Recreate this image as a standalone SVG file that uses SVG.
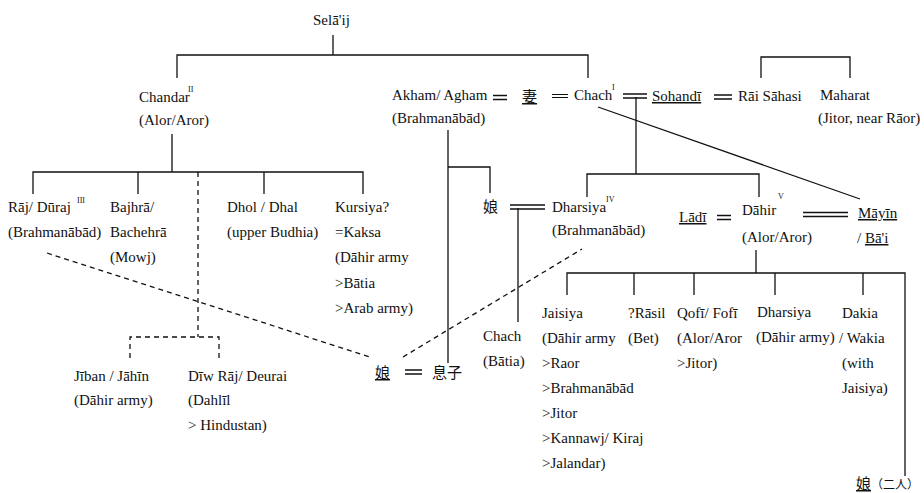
<svg xmlns="http://www.w3.org/2000/svg" width="924" height="493" viewBox="0 0 924 493">
<style>
.t{font-family:"Liberation Serif","Times New Roman","DejaVu Serif",serif;font-size:15px;fill:#111}
.s{font-family:"Liberation Serif","Times New Roman",serif;font-size:8px;fill:#111}
.c{font-family:"Noto Sans CJK JP","Noto Sans CJK SC",sans-serif;font-size:15px;fill:#111}
.u{text-decoration:underline}
.ln{stroke:#111;stroke-width:1.3;fill:none}
.d{stroke-dasharray:5 4}
.eq{stroke:#111;stroke-width:1.5;fill:none}
</style>
<rect width="924" height="493" fill="#fff"/>
<g id="connectors">
<path class="ln" d="M333 35V55M177 78V55H588V78"/>
<path class="ln" d="M761 78V57H850V78"/>
<path class="ln" d="M172 134V172M33 194V172H363V194M138 172V194M264 172V194"/>
<path class="ln d" d="M198 172V337M130 358V337H219V358"/>
<path class="ln d" d="M47 253L370 357M403 357L582 249"/>
<path class="ln" d="M448 130V363M448 167H490V193"/>
<path class="ln" d="M518 208V322"/>
<path class="ln" d="M636 97V174M587 197V174H759V197"/>
<path class="ln" d="M598 107L860 199"/>
<path class="ln" d="M756 250V273M567 295V273H905V476M634 273V295M694 273V295M775 273V295M863 273V295"/>
<path class="eq" d="M493 95.5H507M493 99.5H507"/>
<path class="eq" style="stroke-width:1" d="M552 94.5H568M552 97.5H568"/>
<path class="eq" d="M623 94H647M623 98H647"/>
<path class="eq" d="M714 95H732M714 99H732"/>
<path class="eq" d="M510 205H545M510 209H545"/>
<path class="eq" d="M717 215.5H731M717 219.5H731"/>
<path class="eq" d="M803 212.5H848M803 216.5H848"/>
<path class="eq" d="M405 370H422M405 374H422"/>
</g>
<g id="selaij"><text class="t" x="313" y="25">Selā'ij</text></g>
<g id="chandar"><text class="t" x="139" y="102">Chandar</text><text class="s" x="188" y="92">II</text><text class="t" x="139" y="125">(Alor/Aror)</text></g>
<g id="akham"><text class="t" x="392" y="100">Akham/ Agham</text><text class="t" x="392" y="123">(Brahmanābād)</text></g>
<g id="wife"><text class="c u" x="522" y="102">妻</text></g>
<g id="chach"><text class="t" x="574" y="100">Chach</text><text class="s" x="612" y="90">I</text></g>
<g id="sohandi"><text class="t u" x="652" y="101">Sohandī</text></g>
<g id="rai-sahasi"><text class="t" x="738" y="101">Rāi Sāhasi</text></g>
<g id="maharat"><text class="t" x="820" y="100">Maharat</text><text class="t" x="818" y="123">(Jitor, near Rāor)</text></g>
<g id="raj"><text class="t" x="8" y="212">Rāj/ Dūraj</text><text class="s" x="77" y="203">III</text><text class="t" x="8" y="237">(Brahmanābād)</text></g>
<g id="bajhra"><text class="t" x="110" y="212">Bajhrā/</text><text class="t" x="110" y="237">Bachehrā</text><text class="t" x="110" y="262">(Mowj)</text></g>
<g id="dhol"><text class="t" x="227" y="212">Dhol / Dhal</text><text class="t" x="227" y="237">(upper Budhia)</text></g>
<g id="kursiya"><text class="t" x="335" y="212">Kursiya?</text><text class="t" x="335" y="237">=Kaksa</text><text class="t" x="335" y="262">(Dāhir army</text><text class="t" x="335" y="288">&gt;Bātia</text><text class="t" x="335" y="313">&gt;Arab army)</text></g>
<g id="jiban"><text class="t" x="74" y="381">Jīban / Jāhīn</text><text class="t" x="74" y="405">(Dāhir army)</text></g>
<g id="diw-raj"><text class="t" x="188" y="381">Dīw Rāj/ Deurai</text><text class="t" x="188" y="405">(Dahlīl</text><text class="t" x="188" y="430">&gt; Hindustan)</text></g>
<g id="daughter-akham"><text class="c" x="483" y="212">娘</text></g>
<g id="dharsiya"><text class="t" x="552" y="212">Dharsiya</text><text class="s" x="606" y="202">IV</text><text class="t" x="552" y="235">(Brahmanābād)</text></g>
<g id="chach-batia"><text class="t" x="483" y="341">Chach</text><text class="t" x="483" y="366">(Bātia)</text></g>
<g id="daughter"><text class="c u" x="375" y="378">娘</text></g>
<g id="son"><text class="c" x="432" y="378">息子</text></g>
<g id="ladi"><text class="t u" x="679" y="222">Lādī</text></g>
<g id="dahir"><text class="t" x="742" y="215">Dāhir</text><text class="s" x="778" y="199">V</text><text class="t" x="742" y="242">(Alor/Aror)</text></g>
<g id="mayin"><text class="t" x="858" y="218"><tspan class="u">Māyīn</tspan></text><text class="t" x="857" y="243">/ <tspan class="u">Bā'i</tspan></text></g>
<g id="jaisiya"><text class="t" x="542" y="318">Jaisiya</text><text class="t" x="542" y="343">(Dāhir army</text><text class="t" x="542" y="368">&gt;Raor</text><text class="t" x="542" y="393">&gt;Brahmanābād</text><text class="t" x="542" y="418">&gt;Jitor</text><text class="t" x="542" y="443">&gt;Kannawj/ Kiraj</text><text class="t" x="542" y="468">&gt;Jalandar)</text></g>
<g id="rasil"><text class="t" x="628" y="318">?Rāsil</text><text class="t" x="628" y="343">(Bet)</text></g>
<g id="qofi"><text class="t" x="677" y="318">Qofī/ Fofī</text><text class="t" x="677" y="343">(Alor/Aror</text><text class="t" x="677" y="368">&gt;Jitor)</text></g>
<g id="dharsiya2"><text class="t" x="757" y="317">Dharsiya</text><text class="t" x="756" y="342">(Dāhir army)</text></g>
<g id="dakia"><text class="t" x="842" y="318">Dakia</text><text class="t" x="839" y="343">/ Wakia</text><text class="t" x="842" y="368">(with</text><text class="t" x="842" y="393">Jaisiya)</text></g>
<g id="daughters"><text class="c" x="856" y="489"><tspan class="u">娘</tspan><tspan style="font-size:12px">（二人）</tspan></text></g>
</svg>
